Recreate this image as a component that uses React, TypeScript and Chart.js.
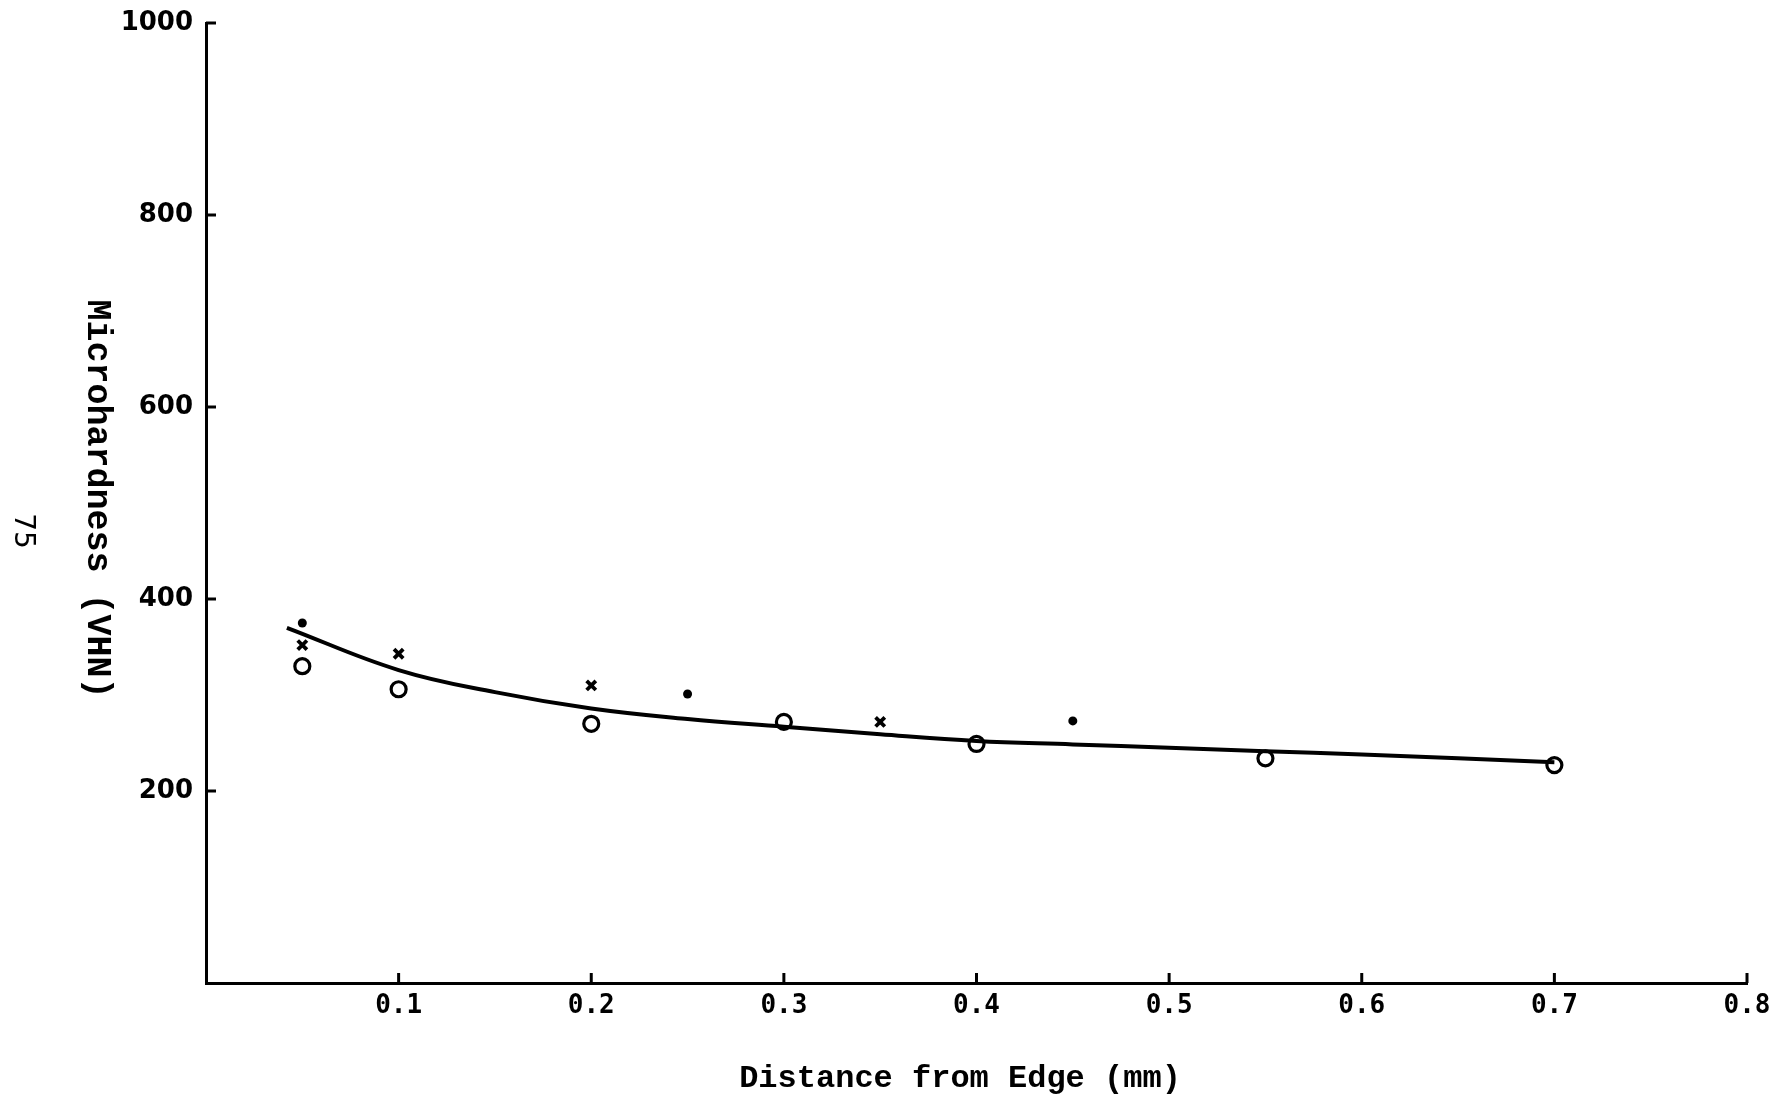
import React, { useEffect, useRef } from "react";
import { Chart, registerables } from "chart.js";

Chart.register(...registerables);

const xTicks = [0.1, 0.2, 0.3, 0.4, 0.5, 0.6, 0.7, 0.8];
const yTicks = [200, 400, 600, 800, 1000];

const circleX = [0.05, 0.1, 0.2, 0.3, 0.4, 0.55, 0.7];
const circleY = [330, 306, 270, 272, 249, 234, 227];

const crossX = [0.05, 0.1, 0.2, 0.35];
const crossY = [352, 343, 310, 272];

const dotX = [0.05, 0.25, 0.45];
const dotY = [375, 301, 273];

const curveX = [0.042, 0.1, 0.15, 0.2, 0.25, 0.3, 0.35, 0.4, 0.45, 0.5, 0.55, 0.6, 0.7];
const curveY = [370, 326, 303, 286, 275, 267, 259, 252, 248.5, 245, 241.5, 238, 230];

const xTitle = "Distance from Edge (mm)";
const yTitle = "Microhardness (VHN)";
const pageNumber = "75";

const toPts = (xs: number[], ys: number[]) => xs.map((x, i) => ({ x, y: ys[i] }));

const extrasPlugin = {
  id: "extras",
  afterDraw(chart: any) {
    const { ctx, chartArea, scales } = chart;
    const xs = scales.x;
    const ys = scales.y;
    ctx.save();
    ctx.strokeStyle = "#000";
    ctx.lineWidth = 3;
    yTicks.forEach((v) => {
      const y = ys.getPixelForValue(v);
      ctx.beginPath();
      ctx.moveTo(chartArea.left, y);
      ctx.lineTo(chartArea.left + 10, y);
      ctx.stroke();
    });
    xTicks.forEach((v) => {
      const x = xs.getPixelForValue(v);
      ctx.beginPath();
      ctx.moveTo(x, chartArea.bottom);
      ctx.lineTo(x, chartArea.bottom - 10);
      ctx.stroke();
    });
    ctx.fillStyle = "#000";
    ctx.textAlign = "center";
    ctx.textBaseline = "middle";
    ctx.font = "bold 32px 'Liberation Mono'";
    ctx.fillText(xTitle, chartArea.left + 754, chartArea.bottom + 96);
    ctx.save();
    ctx.translate(chartArea.left - 109, chartArea.top + 476);
    ctx.rotate(Math.PI / 2);
    ctx.font = "bold 35px 'Liberation Mono'";
    ctx.fillText(yTitle, 0, 0);
    ctx.restore();
    ctx.save();
    ctx.translate(22, chartArea.top + 508);
    ctx.rotate(Math.PI / 2);
    ctx.font = "28px 'DejaVu Sans'";
    ctx.fillText(pageNumber, 0, 0);
    ctx.restore();
    ctx.restore();
  },
};

export default function App() {
  const ref = useRef<HTMLCanvasElement>(null);
  useEffect(() => {
    if (!ref.current) return;
    const chart = new Chart(ref.current, {
      type: "scatter",
      data: {
        datasets: [
          {
            label: "curve",
            data: toPts(curveX, curveY),
            showLine: true,
            borderColor: "#000",
            borderWidth: 4,
            pointRadius: 0,
            tension: 0.4,
          } as any,
          {
            label: "circles",
            data: toPts(circleX, circleY),
            pointStyle: "circle",
            pointRadius: 7.5,
            borderWidth: 3.2,
            borderColor: "#000",
            backgroundColor: "rgba(0,0,0,0)",
          },
          {
            label: "crosses",
            data: toPts(crossX, crossY),
            pointStyle: "crossRot",
            pointRadius: 6.5,
            borderWidth: 3.8,
            borderColor: "#000",
            backgroundColor: "#000",
          },
          {
            label: "dots",
            data: toPts(dotX, dotY),
            pointStyle: "circle",
            pointRadius: 4.5,
            borderWidth: 0,
            borderColor: "#000",
            backgroundColor: "#000",
          },
        ],
      },
      options: {
        animation: false,
        responsive: false,
        maintainAspectRatio: false,
        layout: { padding: { top: 23, right: 43, left: 0, bottom: 0 } },
        plugins: {
          legend: { display: false },
          tooltip: { enabled: false },
        },
        scales: {
          x: {
            type: "linear",
            min: 0,
            max: 0.8,
            afterBuildTicks: (s: any) => {
              s.ticks = xTicks.map((v) => ({ value: v }));
            },
            afterFit: (s: any) => {
              s.height = 115;
              s.paddingLeft = 0;
              s.paddingRight = 0;
            },
            ticks: {
              color: "#000",
              padding: 8,
              font: { family: "'DejaVu Sans Mono'", weight: "bold", size: 26 },
              callback: (v: any) => Number(v).toFixed(1),
              maxRotation: 0,
              autoSkip: false,
            },
            grid: { display: true, drawOnChartArea: false, drawTicks: false },
            border: { display: true, color: "#000", width: 3 },
          },
          y: {
            type: "linear",
            min: 0,
            max: 1000,
            afterBuildTicks: (s: any) => {
              s.ticks = yTicks.map((v) => ({ value: v }));
            },
            afterFit: (s: any) => {
              s.width = 206;
              s.paddingTop = 0;
              s.paddingBottom = 0;
            },
            ticks: {
              color: "#000",
              padding: 13,
              font: { family: "'DejaVu Sans'", weight: "bold", size: 26 },
              callback: (v: any) => String(v),
              autoSkip: false,
            },
            grid: { display: true, drawOnChartArea: false, drawTicks: false },
            border: { display: true, color: "#000", width: 3 },
          },
        },
      },
      plugins: [extrasPlugin],
    });
    return () => chart.destroy();
  }, []);
  return (
    <div style={{ position: "fixed", left: 0, top: 0, width: 1790, height: 1098, background: "#fff" }}>
      <canvas ref={ref} width={1790} height={1098} style={{ display: "block" }} />
    </div>
  );
}
